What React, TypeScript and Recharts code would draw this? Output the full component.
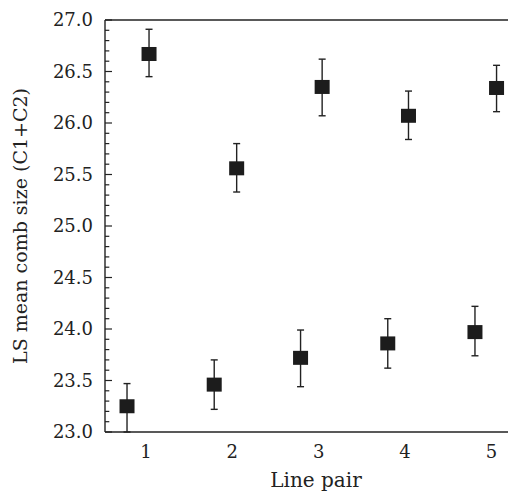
import React from "react";
import { ScatterChart, Scatter, XAxis, YAxis, ErrorBar, ReferenceLine, Label } from "recharts";

const xTicks = [1, 2, 3, 4, 5];
const xTickLabels = ["1", "2", "3", "4", "5"];
const yMajorTicks = [23.0, 23.5, 24.0, 24.5, 25.0, 25.5, 26.0, 26.5, 27.0];
const yMajorLabels = ["23.0", "23.5", "24.0", "24.5", "25.0", "25.5", "26.0", "26.5", "27.0"];
const yMinorTicks = [
  23.0, 23.1, 23.2, 23.3, 23.4, 23.5, 23.6, 23.7, 23.8, 23.9,
  24.0, 24.1, 24.2, 24.3, 24.4, 24.5, 24.6, 24.7, 24.8, 24.9,
  25.0, 25.1, 25.2, 25.3, 25.4, 25.5, 25.6, 25.7, 25.8, 25.9,
  26.0, 26.1, 26.2, 26.3, 26.4, 26.5, 26.6, 26.7, 26.8, 26.9, 27.0,
];

const highX = [1.035, 2.05, 3.04, 4.04, 5.06];
const highMean = [26.67, 25.56, 26.35, 26.07, 26.34];
const highLower = [26.45, 25.33, 26.07, 25.84, 26.11];
const highUpper = [26.91, 25.8, 26.62, 26.31, 26.56];

const lowX = [0.78, 1.79, 2.79, 3.8, 4.81];
const lowMean = [23.25, 23.46, 23.72, 23.86, 23.97];
const lowLower = [23.0, 23.22, 23.44, 23.62, 23.74];
const lowUpper = [23.47, 23.7, 23.99, 24.1, 24.22];

const build = (xs: number[], m: number[], lo: number[], hi: number[]) =>
  xs.map((x, i) => ({ x, y: m[i], err: [m[i] - lo[i], hi[i] - m[i]] }));

const highData = build(highX, highMean, highLower, highUpper);
const lowData = build(lowX, lowMean, lowLower, lowUpper);

const FONT = "'DejaVu Serif', serif";
const INK = "#222";
const Y_MARGIN = 12;

const isMajor = (v: number) => yMajorTicks.some((t) => Math.abs(t - v) < 1e-6);
const majorLabel = (v: number) => {
  const i = yMajorTicks.findIndex((t) => Math.abs(t - v) < 1e-6);
  return i >= 0 ? yMajorLabels[i] : "";
};

const LeftTick = (props: any) => {
  const { x, y, payload } = props;
  const v = payload.value;
  const axisX = x + Y_MARGIN;
  const major = isMajor(v);
  return (
    <g>
      <line x1={axisX} x2={axisX + (major ? 7 : 4.3)} y1={y} y2={y} stroke={INK} strokeWidth={1.2} />
      {major && (
        <text x={x} y={y} dy="0.36em" textAnchor="end" fontFamily={FONT} fontSize={18} fill={INK}>
          {majorLabel(v)}
        </text>
      )}
    </g>
  );
};

const RightTick = (props: any) => {
  const { x, y, payload } = props;
  const major = isMajor(payload.value);
  return <line x1={x} x2={x - (major ? 7 : 4.3)} y1={y} y2={y} stroke={INK} strokeWidth={1.2} />;
};

const XTick = (props: any) => {
  const { x, y, payload } = props;
  const i = xTicks.indexOf(payload.value);
  return (
    <text x={x} y={y} dy="0.73em" textAnchor="middle" fontFamily={FONT} fontSize={18} fill={INK}>
      {i >= 0 ? xTickLabels[i] : ""}
    </text>
  );
};

const YLabel = (props: any) => {
  const vb = props.viewBox;
  const x = vb.x + 19;
  const y = vb.y + vb.height / 2;
  return (
    <text x={x} y={y} transform={`rotate(-90, ${x}, ${y})`} textAnchor="middle" fontFamily={FONT} fontSize={19} fill={INK}>
      LS mean comb size (C1+C2)
    </text>
  );
};

const Square = (props: any) => {
  const { cx, cy } = props;
  return <rect x={cx - 7.5} y={cy - 7} width={15} height={14} fill="#1c1c1c" />;
};

export default function App() {
  return (
    <div style={{ width: 508, height: 493, overflow: "hidden" }}>
      <ScatterChart width={512} height={493} margin={{ top: Y_MARGIN, right: 0, bottom: 0, left: 0 }}>
        <XAxis
          dataKey="x"
          type="number"
          domain={[0.525, 5.32]}
          ticks={xTicks}
          allowDataOverflow
          tickLine={false}
          tickSize={0}
          tickMargin={13}
          tick={<XTick />}
          height={69}
          axisLine={{ stroke: INK, strokeWidth: 1.4 }}
        >
          <Label value="Line pair" position="insideBottom" offset={14} dx={4} fontFamily={FONT} fontSize={20} fill={INK} />
        </XAxis>
        <YAxis
          dataKey="y"
          type="number"
          domain={[23, 27]}
          allowDataOverflow
          ticks={yMinorTicks}
          interval={0}
          tickSize={0}
          tickMargin={Y_MARGIN}
          tickLine={false}
          tick={<LeftTick />}
          width={97}
          axisLine={{ stroke: INK, strokeWidth: 1.4 }}
        >
          <Label content={<YLabel />} />
        </YAxis>
        <YAxis
          yAxisId="r"
          orientation="right"
          type="number"
          domain={[23, 27]}
          allowDataOverflow
          ticks={yMinorTicks}
          interval={0}
          tickSize={0}
          tickMargin={0}
          tickLine={false}
          tick={<RightTick />}
          width={1}
          axisLine={false}
        />
        <ReferenceLine y={27} stroke={INK} strokeWidth={1.4} />
        <Scatter data={highData} shape={<Square />} isAnimationActive={false}>
          <ErrorBar dataKey="err" direction="y" width={3.5} stroke={INK} strokeWidth={1.4} isAnimationActive={false} />
        </Scatter>
        <Scatter data={lowData} shape={<Square />} isAnimationActive={false}>
          <ErrorBar dataKey="err" direction="y" width={3.5} stroke={INK} strokeWidth={1.4} isAnimationActive={false} />
        </Scatter>
      </ScatterChart>
    </div>
  );
}
